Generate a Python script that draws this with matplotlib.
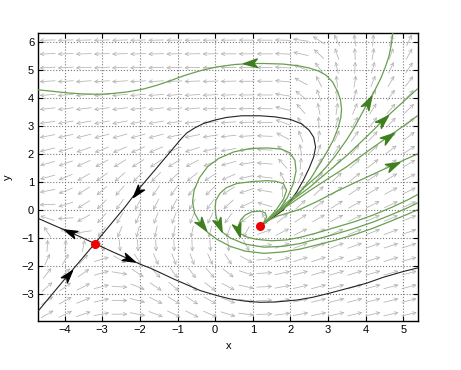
import numpy as np
import matplotlib
matplotlib.use('Agg')
import matplotlib.pyplot as plt
from matplotlib.path import Path
from matplotlib.markers import MarkerStyle
from matplotlib.transforms import Affine2D

plt.rcParams['font.family'] = ['Liberation Sans', 'DejaVu Sans']

# ---- axes ----
x_lim = (-4.7, 5.4)
y_lim = (-3.97, 6.32)
x_ticks = [-4, -3, -2, -1, 0, 1, 2, 3, 4, 5]
y_ticks = [-3, -2, -1, 0, 1, 2, 3, 4, 5, 6]

# ---- equilibria ----
eq_x = [-3.2, 1.2]
eq_y = [-1.2, -0.58]

# ---- separatrices (black), points listed in flow direction ----
stable_low = [(-4.72, -3.64), (-4.3, -2.96), (-3.91, -2.33), (-3.55, -1.76), (-3.2, -1.2)]
stable_up = [(1.2, -0.58), (1.5, -0.3), (1.81, 0.0), (2.0, 0.33), (2.17, 0.65), (2.35, 1.08),
             (2.5, 1.5), (2.62, 1.9), (2.67, 2.25), (2.62, 2.6), (2.5, 2.85), (2.3, 3.08),
             (2.0, 3.24), (1.6, 3.33), (1.2, 3.37), (0.7, 3.37), (0.3, 3.31), (0.0, 3.22),
             (-0.3, 3.1), (-0.55, 2.93), (-0.75, 2.76), (-0.9, 2.55), (-1.2, 2.07),
             (-1.6, 1.43), (-2.0, 0.8), (-2.4, 0.1), (-2.8, -0.55), (-3.2, -1.2)]
unstable_left = [(-3.2, -1.2), (-3.55, -0.98), (-3.85, -0.8), (-4.3, -0.54), (-4.72, -0.29)]
unstable_right = [(-3.2, -1.2), (-2.75, -1.48), (-2.3, -1.75), (-1.99, -1.94), (-1.72, -2.08),
                  (-1.4, -2.28), (-1.1, -2.47), (-0.84, -2.62), (-0.4, -2.88), (0.05, -3.06),
                  (0.4, -3.18), (0.8, -3.26), (1.19, -3.3), (1.6, -3.29), (2.17, -3.22),
                  (2.6, -3.12), (3.05, -2.97), (3.58, -2.78), (4.02, -2.62), (4.46, -2.41),
                  (5.0, -2.2), (5.45, -2.05)]

# ---- orbits (green), points listed in flow direction ----
orbit_top = [(1.2, -0.58), (1.55, -0.2), (1.9, 0.15), (2.25, 0.62), (2.55, 1.15), (2.79, 1.67),
             (2.98, 2.1), (3.14, 2.5), (3.27, 2.95), (3.34, 3.3), (3.36, 3.6), (3.33, 3.95),
             (3.25, 4.25), (3.12, 4.58), (2.95, 4.82), (2.75, 4.97), (2.5, 5.08), (2.2, 5.16),
             (1.8, 5.22), (1.3, 5.24), (0.93, 5.24), (0.5, 5.2), (0.05, 5.12), (-0.4, 4.98),
             (-0.84, 4.8), (-1.2, 4.62), (-1.55, 4.46), (-1.9, 4.33), (-2.3, 4.23),
             (-2.7, 4.17), (-3.05, 4.14), (-3.5, 4.15), (-3.93, 4.19), (-4.35, 4.25), (-4.72, 4.3)]
orbit_f1 = [(1.2, -0.58), (1.6, -0.1), (2.0, 0.38), (2.3, 0.72), (2.52, 0.98), (2.75, 1.25),
            (2.96, 1.55), (3.2, 1.95), (3.49, 2.5), (3.7, 2.95), (3.9, 3.45), (4.07, 3.87),
            (4.25, 4.3), (4.4, 4.7), (4.52, 5.1), (4.62, 5.5), (4.68, 5.9), (4.73, 6.4)]
orbit_f2 = [(1.2, -0.58), (1.6, -0.12), (2.0, 0.3), (2.5, 0.8), (3.05, 1.43), (3.5, 1.95),
            (3.93, 2.5), (4.2, 2.85), (4.46, 3.21), (4.9, 3.75), (5.45, 4.42)]
orbit_f3 = [(1.2, -0.58), (1.6, -0.15), (2.0, 0.22), (2.5, 0.68), (3.0, 1.12), (3.5, 1.55),
            (4.0, 2.05), (4.6, 2.62), (5.0, 3.0), (5.45, 3.44)]
orbit_f4 = [(1.2, -0.58), (1.4, -0.38), (1.65, -0.22), (2.0, -0.08), (2.25, 0.02), (2.7, 0.3),
            (3.2, 0.65), (3.7, 0.97), (4.2, 1.28), (4.73, 1.61), (5.45, 2.05)]
loop_outer = [(1.2, -0.58), (1.45, -0.3), (1.7, 0.0), (1.92, 0.45), (2.08, 0.95), (2.15, 1.4),
              (2.12, 1.78), (1.98, 2.05), (1.75, 2.18), (1.37, 2.22), (0.93, 2.2), (0.5, 2.08),
              (0.1, 1.85), (-0.2, 1.55), (-0.42, 1.15), (-0.56, 0.7), (-0.6, 0.3), (-0.55, -0.1),
              (-0.45, -0.35), (-0.35, -0.54), (-0.2, -0.8), (0.05, -1.05), (0.4, -1.3),
              (0.8, -1.47), (1.3, -1.55), (1.8, -1.5), (2.25, -1.4), (2.7, -1.25), (3.2, -1.08),
              (3.7, -0.88), (4.2, -0.65), (4.7, -0.38), (5.1, -0.16), (5.45, 0.05)]
loop_mid = [(1.2, -0.58), (1.42, -0.3), (1.62, 0.0), (1.82, 0.4), (1.9, 0.7), (1.81, 0.95),
            (1.6, 1.03), (1.37, 1.05), (1.0, 1.02), (0.58, 0.95), (0.3, 0.8), (0.13, 0.6),
            (0.02, 0.35), (0.0, 0.1), (0.02, -0.2), (0.09, -0.54), (0.2, -0.8), (0.4, -1.0),
            (0.8, -1.22), (1.3, -1.33), (1.8, -1.3), (2.25, -1.2), (2.7, -1.04), (3.2, -0.86),
            (3.7, -0.66), (4.2, -0.43), (4.7, -0.16), (5.1, 0.07), (5.45, 0.3)]
loop_inner = [(1.2, -0.58), (1.3, -0.42), (1.37, -0.25), (1.33, -0.1), (1.19, -0.04),
              (0.98, -0.06), (0.8, -0.18), (0.68, -0.35), (0.62, -0.55), (0.62, -0.71),
              (0.68, -0.85), (0.85, -0.97), (1.1, -1.05), (1.5, -1.1), (1.9, -1.07),
              (2.25, -0.98), (2.7, -0.82), (3.2, -0.62), (3.7, -0.42), (4.2, -0.18),
              (4.7, 0.1), (5.1, 0.35), (5.45, 0.6)]

black_curves = [stable_low, stable_up, unstable_left, unstable_right]
green_curves = [orbit_top, orbit_f1, orbit_f2, orbit_f3, orbit_f4, loop_outer, loop_mid, loop_inner]

# arrowhead positions: (curve, x, y)
black_heads = [(stable_low, -3.91, -2.33), (stable_up, -2.08, 0.65),
               (unstable_left, -3.85, -0.8), (unstable_right, -2.3, -1.75)]
green_heads = [(orbit_top, 0.93, 5.24), (orbit_f1, 4.07, 3.87), (orbit_f2, 4.46, 3.21),
               (orbit_f3, 4.6, 2.62), (orbit_f4, 4.73, 1.61), (loop_outer, -0.35, -0.54),
               (loop_mid, 0.09, -0.54), (loop_inner, 0.62, -0.71)]


def field(x, y):
    # x' = 0 along y = h(x); y' = 0 along x = 1.2 and x = -3.2 - phi(y)
    h = -1.21 + 0.48 * np.logaddexp(0, (x - 1.0) / 0.2)
    d = y - h
    k = 2 + (x + 1) ** 2 * (0.225 - 0.075 * np.tanh(x + 1)) + 0.04 * np.maximum(d, 0) ** 4
    u = -k * d
    wp, c = 0.3, 0.4
    phi = 0.1 * (y + 1.2) + 0.9 * wp * (np.logaddexp(0, (y + 1.2 + c) / wp)
                                        - np.logaddexp(0, c / wp))
    v = (x - 1.2) * (x + 3.2 + phi)
    return u, v


fig = plt.figure(figsize=(4.61, 3.70), dpi=100)
ax = fig.add_axes([0.0831, 0.1324, 0.8243, 0.7776])
ax.set_xlim(*x_lim)
ax.set_ylim(*y_lim)
xr = x_lim[1] - x_lim[0]
yr = y_lim[1] - y_lim[0]

# direction field
n = 21
gx = x_lim[0] + (np.arange(n) + 0.5) * xr / n
gy = y_lim[0] + (np.arange(n) + 0.5) * yr / n
L = 0.041
for cx in gx:
    for cy in gy:
        u, v = field(cx, cy)
        ux, vy = u / xr, v / yr
        nn = np.hypot(ux, vy)
        if nn == 0:
            continue
        dx = ux / nn * L * xr / 2
        dy = vy / nn * L * yr / 2
        ax.annotate('', xy=(cx + dx, cy + dy), xytext=(cx - dx, cy - dy),
                    arrowprops=dict(arrowstyle='->', color='#b2b2b2', lw=0.55,
                                    shrinkA=0, shrinkB=0, mutation_scale=6))

for c in black_curves:
    a = np.array(c)
    ax.plot(a[:, 0], a[:, 1], color='#222222', lw=0.8, zorder=3)
for c in green_curves:
    a = np.array(c)
    ax.plot(a[:, 0], a[:, 1], color='#6a9f4f', lw=0.9, zorder=3)

ax.plot(eq_x, eq_y, 'o', color='#ee0000', ms=5.5, zorder=5)

stealth = Path([(1, 0), (-1, 0.62), (-0.45, 0), (-1, -0.62), (1, 0)],
               [Path.MOVETO, Path.LINETO, Path.LINETO, Path.LINETO, Path.CLOSEPOLY])


def head(curve, px, py, color, size):
    a = np.array(curve)
    i = int(np.argmin(np.hypot(a[:, 0] - px, a[:, 1] - py)))
    i0, i1 = max(i - 1, 0), min(i + 1, len(a) - 1)
    p0 = ax.transData.transform(a[i0])
    p1 = ax.transData.transform(a[i1])
    ang = np.degrees(np.arctan2(p1[1] - p0[1], p1[0] - p0[0]))
    m = MarkerStyle(stealth, transform=Affine2D().rotate_deg(ang))
    ax.plot([px], [py], marker=m, color=color, ms=size, mec=color, zorder=6)


for c, px, py in black_heads:
    head(c, px, py, '#000000', 9)
for c, px, py in green_heads:
    head(c, px, py, '#3f7f1f', 10)

ax.set_xticks(x_ticks)
ax.set_yticks(y_ticks)
ax.set_xticklabels([str(t).replace('-', '\u2212') for t in x_ticks])
ax.set_yticklabels([str(t).replace('-', '\u2212') for t in y_ticks])
ax.tick_params(direction='in', top=True, right=True, length=3.5, width=0.8,
               labelsize=8, pad=3)
ax.grid(True, linestyle=':', color='#777777', lw=0.8)
for s in ax.spines.values():
    s.set_linewidth(1.0)
ax.set_xlabel('x', fontsize=8, labelpad=4)
ax.set_ylabel('y', fontsize=8, labelpad=6)

fig.savefig('out.png', dpi=100)
